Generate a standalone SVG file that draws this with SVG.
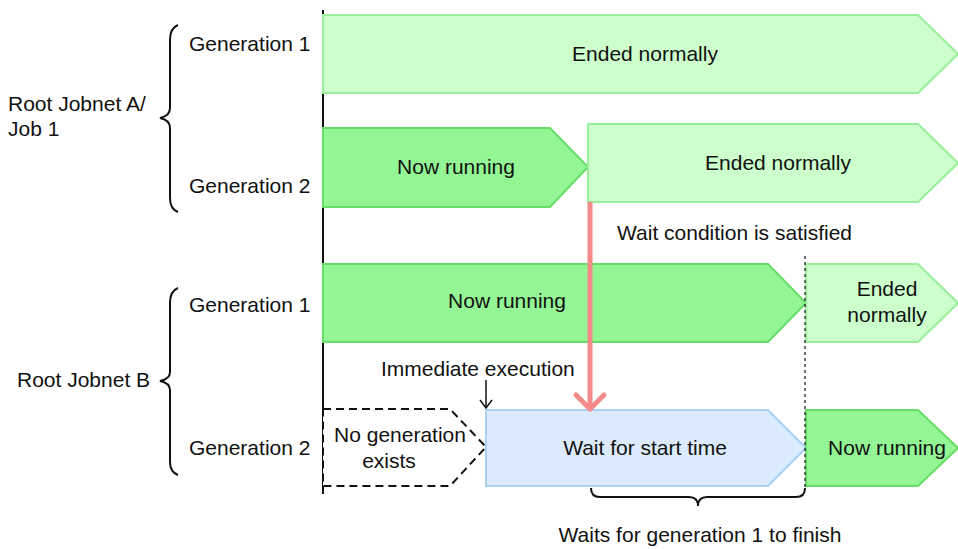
<svg xmlns="http://www.w3.org/2000/svg" width="958" height="549" viewBox="0 0 958 549">
<style>
text{font-family:"Liberation Sans",Arial,sans-serif;font-size:21px;fill:#111}
.m{text-anchor:middle}
.light{fill:#ccffcc;stroke:#99ee99;stroke-width:2}
.dark{fill:#94f594;stroke:#66dd66;stroke-width:2}
.wait{fill:#dbeafc;stroke:#a9d0f5;stroke-width:2}
.none{fill:#fff;stroke:#111;stroke-width:2;stroke-dasharray:8,5}
.br{fill:none;stroke:#111;stroke-width:2}
</style>
<rect width="958" height="549" fill="#fff"/>
<g id="labels">
<text x="189" y="51">Generation 1</text>
<text x="189" y="193">Generation 2</text>
<text x="8" y="111">Root Jobnet A/</text>
<text x="8" y="136">Job 1</text>
<text x="189" y="312">Generation 1</text>
<text x="189" y="455">Generation 2</text>
<text x="17" y="387">Root Jobnet B</text>
<path class="br" d="M178,25 Q170,28 170,40 L170,108 Q170,116 160,118 Q170,120 170,128 L170,198 Q170,209 178,212"/>
<path class="br" d="M178,288 Q170,291 170,303 L170,372 Q170,379 160,381 Q170,383 170,390 L170,462 Q170,472 178,475"/>
</g>
<g id="axis"><line x1="323" y1="10" x2="323" y2="494" stroke="#111" stroke-width="2"/></g>
<g id="a-gen1-ended">
<polygon class="light" points="323,15 918,15 958,54 918,93 323,93"/>
<text class="m" x="645" y="61">Ended normally</text>
</g>
<g id="a-gen2-running">
<polygon class="dark" points="323,128 550,128 588,167 550,207 323,207"/>
<text class="m" x="456" y="174">Now running</text>
</g>
<g id="a-gen2-ended">
<polygon class="light" points="588,124 918,124 958,163 918,202 588,202"/>
<text class="m" x="778" y="170">Ended normally</text>
</g>
<g id="b-gen1-running">
<polygon class="dark" points="323,264 768,264 806,303 768,342 323,342"/>
<text class="m" x="507" y="308">Now running</text>
</g>
<g id="b-gen1-ended">
<polygon class="light" points="806,264 918,264 958,303 918,342 806,342"/>
<text class="m" x="887" y="296">Ended</text>
<text class="m" x="887" y="322">normally</text>
</g>
<g id="b-gen2-none">
<polygon class="none" points="323,409 450,409 486,447 450,486 323,486"/>
<text class="m" x="400" y="442">No generation</text>
<text class="m" x="389" y="468">exists</text>
</g>
<g id="b-gen2-wait">
<polygon class="wait" points="486,410 768,410 806,448 768,486 486,486"/>
<text class="m" x="645" y="455">Wait for start time</text>
</g>
<g id="b-gen2-running">
<polygon class="dark" points="806,410 918,410 958,448 918,486 806,486"/>
<text class="m" x="887" y="455">Now running</text>
</g>
<g id="connectors">
<line x1="590" y1="202" x2="590" y2="408" stroke="#f48a8a" stroke-width="5"/>
<polyline points="576,395 590,409 604,395" fill="none" stroke="#f48a8a" stroke-width="5" stroke-linecap="round" stroke-linejoin="round"/>
<line x1="486" y1="380" x2="486" y2="408" stroke="#111" stroke-width="1.5"/>
<polyline points="480,400 486,408 492,400" fill="none" stroke="#111" stroke-width="1.5"/>
<line x1="805" y1="256" x2="805" y2="488" stroke="#111" stroke-width="1.2" stroke-dasharray="3,3"/>
<path class="br" d="M591,488 Q591,497 600,497 L689,497 Q698,497 698,506 Q698,497 707,497 L796,497 Q805,497 805,488"/>
</g>
<g id="notes">
<text x="617" y="240">Wait condition is satisfied</text>
<text x="381" y="376">Immediate execution</text>
<text class="m" x="700" y="542">Waits for generation 1 to finish</text>
</g>
</svg>
